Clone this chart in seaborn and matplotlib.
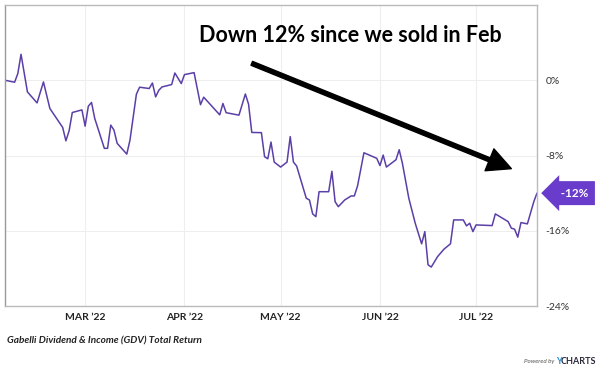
import matplotlib
matplotlib.use("Agg")
from matplotlib import pyplot as plt
import matplotlib.dates as mdates
import numpy as np
import pandas as pd
import seaborn as sns

# GDV total return (days after 2022-02-04, percent)
start_date = "2022-02-04"
day_offset = [
    0, 3, 4, 5, 7, 10, 12, 14, 18, 19, 20, 21, 24, 25, 26, 27, 28, 31, 32, 33,
    34, 35, 38, 39, 41, 42, 45, 46, 47, 48, 49, 52, 53, 55, 56, 59, 61, 62, 67, 68,
    69, 73, 75, 76, 77, 80, 81, 82, 83, 84, 86, 88, 89, 90, 91, 94, 95, 96, 97, 98,
    101, 102, 103, 104, 106, 108, 109, 110, 112, 116, 117, 118, 119, 122, 123, 124, 126, 128, 130, 131,
    132, 133, 135, 137, 139, 140, 143, 144, 145, 146, 147, 152, 153, 157, 158, 159, 160, 161, 163, 165,
    166,
]
total_return = [
    0.00, -0.21, 0.71, 2.76, -1.24, -2.41, -0.18, -3.00, -5.02, -6.44, -5.38, -3.43, -3.15, -4.88, -2.76, -2.36, -4.06, -7.24, -7.24, -4.77,
    -5.30, -6.71, -7.85, -6.36, -1.48, -0.74, -0.88, -0.29, -1.77, -1.06, -0.71, -0.46, 0.77, -0.35, 0.60, 0.81, -2.60, -1.80, -3.68, -2.47,
    -3.45, -3.71, -1.46, -2.55, -5.55, -5.57, -8.13, -8.35, -6.57, -8.70, -9.23, -8.70, -5.99, -8.70, -9.12, -12.54, -12.73, -14.21, -14.50, -11.85,
    -11.85, -9.68, -12.91, -13.44, -12.73, -12.30, -12.30, -11.24, -7.71, -8.30, -9.07, -7.95, -9.23, -8.45, -7.39, -8.83, -12.54, -15.20, -17.39, -16.09,
    -19.62, -19.86, -18.74, -17.95, -17.39, -14.85, -14.85, -15.48, -15.20, -16.09, -15.38, -15.45, -14.21, -15.03, -15.73, -15.83, -16.68, -15.13, -15.27, -12.91,
    -12.00,
]
y_ticks = [0, -8, -16, -24]
y_labels = ["0%", "-8%", "-16%", "-24%"]
month_ticks = ["2022-03-01", "2022-04-01", "2022-05-01", "2022-06-01", "2022-07-01"]
month_labels = ["MAR \u201922", "APR \u201922", "MAY \u201922", "JUN \u201922", "JUL \u201922"]

line_color = "#5b3fa8"
flag_color = "#6a3ccb"

sns.set_style("white")
plt.rcParams["font.family"] = ["Lato", "DejaVu Sans"]

df = pd.DataFrame({
    "date": pd.Timestamp(start_date) + pd.to_timedelta(day_offset, unit="D"),
    "ret": total_return,
})

fig = plt.figure(figsize=(6, 3.75), dpi=100)
ax = fig.add_axes([5 / 600, 69 / 375, 532 / 600, 301 / 375])

sns.lineplot(data=df, x="date", y="ret", ax=ax, color=line_color, linewidth=1.1)

ax.set_xlim(df["date"].iloc[0], df["date"].iloc[-1])
ax.set_ylim(-24, 8)

ax.set_yticks(y_ticks)
ax.set_yticklabels(y_labels)
ax.yaxis.tick_right()
ax.tick_params(axis="y", length=0, pad=6, labelsize=7.5, labelcolor="#333333")

ax.set_xticks(pd.to_datetime(month_ticks))
ax.set_xticklabels(month_labels, fontweight="bold")
ax.tick_params(axis="x", length=0, pad=5, labelsize=7.5, labelcolor="#222222")

ax.grid(True, color="#eeeeee", linewidth=0.8)
for side in ["top", "right", "left", "bottom"]:
    ax.spines[side].set_color("#bbbbbb")
    ax.spines[side].set_linewidth(1.0)
ax.spines["left"].set_color("#999999")
ax.set_xlabel("")
ax.set_ylabel("")

# end-value flag
last = df.iloc[-1]
ax.annotate("  -12%", xy=(last["date"], last["ret"]), xytext=(13, 0),
            textcoords="offset points", va="center", ha="left",
            color="white", fontsize=8.5, fontweight="bold", annotation_clip=False,
            bbox=dict(boxstyle="larrow,pad=0.55", fc=flag_color, ec="none"))

# callout
ax.text(0.65, 0.90, "Down 12% since we sold in Feb", transform=ax.transAxes,
        ha="center", va="center", fontsize=15.5, fontweight="bold",
        color="black")
ax.annotate("", xy=(pd.Timestamp(start_date) + pd.Timedelta(days=158), -9.4),
            xytext=(pd.Timestamp(start_date) + pd.Timedelta(days=77), 1.8),
            arrowprops=dict(arrowstyle="simple,head_width=1.7,head_length=1.7,tail_width=0.3",
                            fc="black", ec="black", shrinkA=0, shrinkB=0))

fig.text(7 / 600, 1 - 341 / 375, "Gabelli Dividend & Income (GDV) Total Return",
         fontsize=7.2, fontweight="bold", fontstyle="italic", color="#222222", va="center")
fig.text(554 / 600, 1 - 362 / 375, "Powered by", fontsize=4.5, fontstyle="italic",
         color="#555555", ha="right", va="center")
fig.text(556 / 600, 1 - 362 / 375, "Y", fontsize=6.5, fontweight="bold",
         color="#1f8fd6", ha="left", va="center")
fig.text(561 / 600, 1 - 362 / 375, "CHARTS", fontsize=6.5, fontweight="bold",
         color="#2a2a3a", ha="left", va="center")

fig.savefig("out.png", dpi=100)
